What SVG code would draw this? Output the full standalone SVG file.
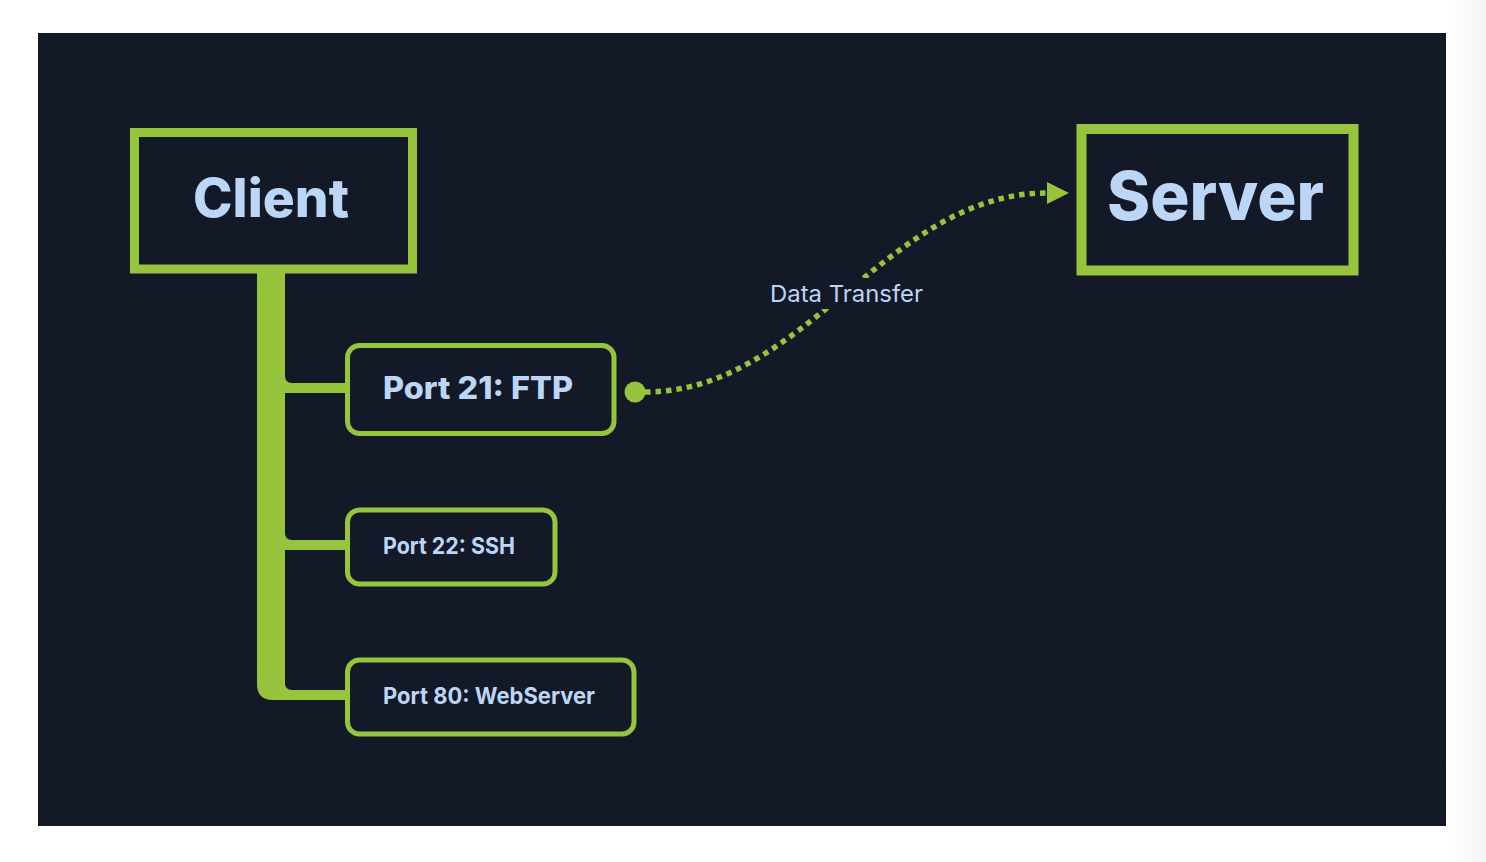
<svg xmlns="http://www.w3.org/2000/svg" width="1486" height="862" viewBox="0 0 1486 862">
<style>
.box{fill:#141927;stroke:#96c43c}
.lbl{fill:#bcd6f8;font-family:Inter,"Open Sans","Liberation Sans",sans-serif}
.big{font-weight:800}
.port{font-weight:700}
</style>
<defs>
<linearGradient id="edge" x1="0" y1="0" x2="1" y2="0">
<stop offset="0" stop-color="#ffffff"/>
<stop offset="1" stop-color="#f4f4f4"/>
</linearGradient>
<marker id="arr" markerWidth="22" markerHeight="22" viewBox="0 0 22 22" refX="0" refY="11" orient="auto" markerUnits="userSpaceOnUse">
<path d="M0,0 L22,11 L0,22 Z" fill="#96c43c"/>
</marker>
</defs>
<rect x="0" y="0" width="1486" height="862" fill="#ffffff"/>
<rect x="1446" y="0" width="40" height="862" fill="url(#edge)"/>
<rect x="38" y="33" width="1408" height="793" fill="#141927"/>
<g id="connectors">
<path d="M257,273 H285 V376 Q285,383 292,383 H347 V393 H285 V533 Q285,540 292,540 H347 V550 H285 V683 Q285,690 292,690 H347 V700 H273 Q257,700 257,684 Z" fill="#96c43c"/>
<path d="M645,392 C805,392 887,193 1047,193" fill="none" stroke="#96c43c" stroke-width="5.5" stroke-dasharray="5.5 5" marker-end="url(#arr)"/>
<circle cx="635" cy="392" r="10.5" fill="#96c43c"/>
<rect x="766" y="278" width="162" height="31" fill="#141927"/>
<text class="lbl" x="770" y="302" font-size="23.5" textLength="153" lengthAdjust="spacingAndGlyphs">Data Transfer</text>
</g>
<g id="client">
<rect class="box" x="134.5" y="132.5" width="278" height="136.5" stroke-width="9"/>
<text class="lbl big" x="193" y="217" font-size="53" textLength="156" lengthAdjust="spacingAndGlyphs">Client</text>
</g>
<g id="server">
<rect class="box" x="1081.5" y="129" width="272" height="141.5" stroke-width="10"/>
<text class="lbl big" x="1107" y="220" font-size="67" textLength="217" lengthAdjust="spacingAndGlyphs">Server</text>
</g>
<g id="ftp">
<rect class="box" x="347.5" y="345.5" width="266.5" height="88" rx="12" stroke-width="5"/>
<text class="lbl big" x="383" y="399" font-size="31" textLength="190" lengthAdjust="spacingAndGlyphs">Port 21: FTP</text>
</g>
<g id="ssh">
<rect class="box" x="347.5" y="510" width="207.5" height="74" rx="12" stroke-width="5"/>
<text class="lbl port" x="383" y="553.5" font-size="23" textLength="132" lengthAdjust="spacingAndGlyphs">Port 22: SSH</text>
</g>
<g id="web">
<rect class="box" x="347.5" y="660" width="286.5" height="74" rx="12" stroke-width="5"/>
<text class="lbl port" x="383" y="703.5" font-size="23" textLength="212" lengthAdjust="spacingAndGlyphs">Port 80: WebServer</text>
</g>
</svg>
